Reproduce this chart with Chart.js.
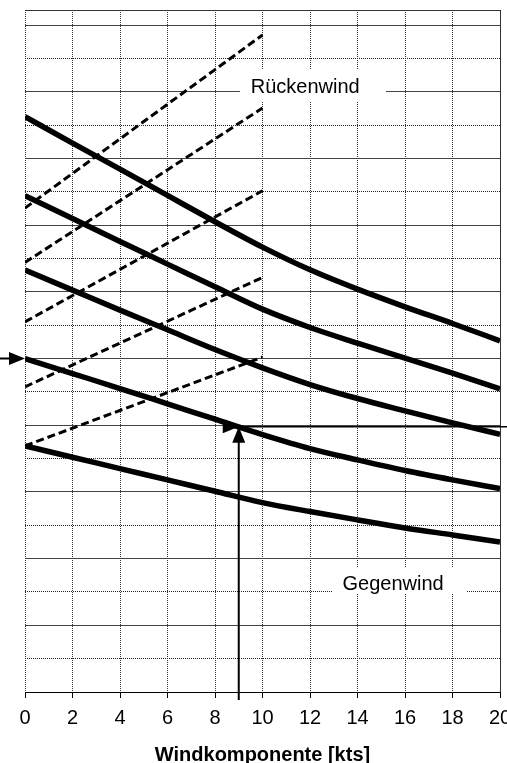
<!DOCTYPE html>
<html>
<head>
<meta charset="utf-8">
<script src="https://cdn.jsdelivr.net/npm/chart.js@4"></script>
<style>
  body { margin: 0; background: #fff; }
  #wrap { width: 507px; height: 763px; }
</style>
</head>
<body>
<div id="wrap"><canvas id="myChart"></canvas></div>
<script>
// wind component (kts) sampled every 2 kts
const windX = [0, 2, 4, 6, 8, 10, 12, 14, 16, 18, 20];
const curve1 = [17.25, 16.46, 15.68, 14.89, 14.10, 13.34, 12.66, 12.08, 11.55, 11.05, 10.53];
const curve2 = [14.88, 14.20, 13.51, 12.83, 12.15, 11.48, 10.93, 10.46, 10.01, 9.56, 9.09];
const curve3 = [12.65, 12.05, 11.45, 10.86, 10.27, 9.72, 9.22, 8.80, 8.43, 8.07, 7.73];
const curve4 = [10.00, 9.55, 9.10, 8.64, 8.18, 7.72, 7.30, 6.96, 6.64, 6.36, 6.10];
const curve5 = [7.38, 7.04, 6.70, 6.36, 6.02, 5.68, 5.41, 5.16, 4.92, 4.71, 4.50];

// tailwind guide lines, 0 -> 10 kts
const dashX = [0, 10];
const dash1 = [14.51, 19.70];
const dash2 = [12.88, 17.51];
const dash3 = [11.10, 15.03];
const dash4 = [9.15, 12.43];
const dash5 = [7.38, 10.04];

const xTicks = [0, 2, 4, 6, 8, 10, 12, 14, 16, 18, 20];
const solidRows = [0, 2, 4, 6, 8, 10, 12, 14, 16, 18, 20];
const dottedRows = [1, 3, 5, 7, 9, 11, 13, 15, 17, 19];

// example reading
const startY = 10;
const readX = 9;
const readY = 7.95;

const pts = (xs, ys) => xs.map((v, i) => ({ x: v, y: ys[i] }));

const curve = d => ({
  data: pts(windX, d),
  borderColor: '#000',
  borderWidth: 5.5,
  pointRadius: 0,
  cubicInterpolationMode: 'monotone',
  fill: false
});
const guide = d => ({
  data: pts(dashX, d),
  borderColor: '#000',
  borderWidth: 3,
  borderDash: [8, 4],
  pointRadius: 0,
  fill: false
});

const boxes = [
  { text: 'Rückenwind', x0: 9.05, x1: 15.2, y0: 17.72, y1: 18.65, tx: 11.8, ty: 18.14 },
  { text: 'Gegenwind', x0: 12.97, x1: 18.61, y0: 2.97, y1: 3.75, tx: 15.5, ty: 3.21 }
];

function head(ctx, tx, ty, dx, dy) {
  const len = 16, half = 6.5;
  const bx = tx - dx * len, by = ty - dy * len;
  ctx.beginPath();
  ctx.moveTo(tx, ty);
  ctx.lineTo(bx - dy * half, by + dx * half);
  ctx.lineTo(bx + dy * half, by - dx * half);
  ctx.closePath();
  ctx.fill();
}

const overlay = {
  id: 'overlay',
  beforeDatasetsDraw(chart) {
    const { ctx, chartArea: a, scales: { x, y } } = chart;
    ctx.save();
    ctx.strokeStyle = '#333';
    ctx.lineWidth = 1;
    ctx.beginPath();
    ctx.moveTo(a.left, a.top + 0.5);
    ctx.lineTo(a.right + 0.5, a.top + 0.5);
    ctx.lineTo(a.right + 0.5, a.bottom);
    ctx.stroke();
    ctx.font = '20px "Liberation Sans", Arial, sans-serif';
    ctx.textAlign = 'center';
    ctx.textBaseline = 'middle';
    boxes.forEach(b => {
      const l = x.getPixelForValue(b.x0), r = x.getPixelForValue(b.x1);
      const t = y.getPixelForValue(b.y1), btm = y.getPixelForValue(b.y0);
      ctx.fillStyle = '#fff';
      ctx.fillRect(l, t, r - l, btm - t);
      ctx.fillStyle = '#000';
      ctx.fillText(b.text, x.getPixelForValue(b.tx), y.getPixelForValue(b.ty));
    });
    ctx.restore();
  },
  afterDatasetsDraw(chart) {
    const { ctx, width, scales: { x, y } } = chart;
    const x0 = x.getPixelForValue(0);
    const ys = y.getPixelForValue(startY);
    const px = x.getPixelForValue(readX), py = y.getPixelForValue(readY);
    ctx.save();
    ctx.strokeStyle = '#000';
    ctx.fillStyle = '#000';
    ctx.lineWidth = 2;
    ctx.beginPath();
    ctx.moveTo(0, ys);
    ctx.lineTo(x0 - 10, ys);
    ctx.stroke();
    head(ctx, x0, ys, 1, 0);
    ctx.lineWidth = 1.5;
    ctx.beginPath();
    ctx.moveTo(px, py);
    ctx.lineTo(width, py);
    ctx.stroke();
    head(ctx, px, py, 1, 0);
    ctx.lineWidth = 2;
    ctx.beginPath();
    ctx.moveTo(px, y.getPixelForValue(0) + 8);
    ctx.lineTo(px, py + 10);
    ctx.stroke();
    head(ctx, px, py, 0, -1);
    ctx.restore();
  }
};

new Chart("myChart", {
  type: "line",
  data: {
    datasets: [
      guide(dash1), guide(dash2), guide(dash3), guide(dash4), guide(dash5),
      curve(curve1), curve(curve2), curve(curve3), curve(curve4), curve(curve5)
    ]
  },
  plugins: [overlay],
  options: {
    responsive: true,
    maintainAspectRatio: false,
    animation: false,
    layout: { padding: { top: 10, right: 7, left: 0, bottom: 0 } },
    scales: {
      x: {
        type: 'linear',
        min: 0,
        max: 20,
        afterBuildTicks: s => { s.ticks = xTicks.map(v => ({ value: v })); },
        afterFit: s => { s.height = 71; s.paddingLeft = 0; s.paddingRight = 0; },
        grid: { color: '#333', tickLength: 6, tickColor: '#000' },
        border: { display: true, color: '#000', width: 1, dash: [1, 1] },
        ticks: {
          color: '#000',
          padding: 8,
          maxRotation: 0,
          autoSkip: false,
          font: { family: '"Liberation Sans", Arial, sans-serif', size: 20 }
        },
        title: {
          display: true,
          text: 'Windkomponente [kts]',
          color: '#000',
          padding: { top: 0, bottom: -4 },
          font: { family: '"Liberation Sans", Arial, sans-serif', size: 20, weight: 'bold' }
        }
      },
      y: {
        min: 0,
        max: 20.45,
        afterBuildTicks: s => { s.ticks = solidRows.map(v => ({ value: v })); },
        afterFit: s => { s.width = 25; },
        ticks: { display: false },
        grid: { color: '#444', drawTicks: false },
        border: { display: false }
      },
      y2: {
        position: 'left',
        min: 0,
        max: 20.45,
        afterBuildTicks: s => { s.ticks = dottedRows.map(v => ({ value: v })); },
        afterFit: s => { s.width = 0; },
        ticks: { display: false },
        grid: { color: '#222', drawTicks: false },
        border: { display: false, dash: [1, 1] }
      }
    },
    plugins: {
      legend: { display: false },
      tooltip: { enabled: false }
    }
  }
});
</script>
</body>
</html>
